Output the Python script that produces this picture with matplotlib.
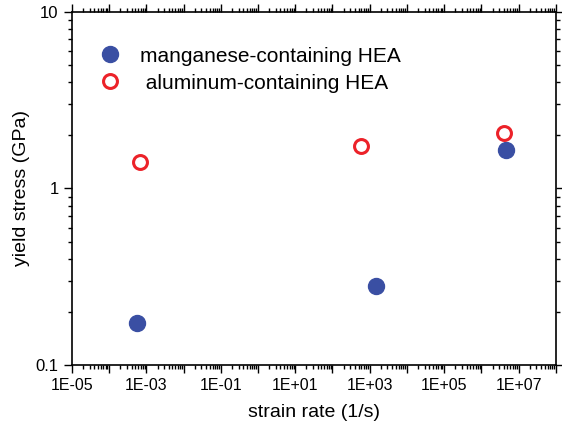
import numpy as np
import matplotlib
matplotlib.use('Agg')
import matplotlib.pyplot as plt
from matplotlib.ticker import LogLocator, FixedLocator, NullFormatter, FuncFormatter

# strain rate (1/s) and yield stress (GPa)
mn_rate = [5.6e-4, 1.5e3, 4.7e6]
mn_stress = [0.173, 0.28, 1.65]
al_rate = [6.8e-4, 5.9e2, 4.1e6]
al_stress = [1.41, 1.74, 2.06]

plt.rcParams['font.family'] = ['Liberation Sans', 'DejaVu Sans']

fig = plt.figure(figsize=(5.62, 4.25), dpi=100)
ax = fig.add_axes([0.128, 0.141, 0.861, 0.831])

ax.plot(mn_rate, mn_stress, 'o', ms=11.5, color='#3a4fa3', mec='#3a4fa3',
        label='manganese-containing HEA')
ax.plot(al_rate, al_stress, 'o', ms=10, mfc='none', mec='#ec2229', mew=2.2,
        label=' aluminum-containing HEA')

ax.set_xscale('log')
ax.set_yscale('log')
ax.set_xlim(1e-5, 1e8)
ax.set_ylim(0.1, 10)

# major tick every decade, label every second one
ax.xaxis.set_major_locator(FixedLocator([10.0 ** k for k in range(-5, 9)]))
ax.xaxis.set_major_formatter(FuncFormatter(
    lambda v, p: ('1E%+03d' % round(np.log10(v))) if round(np.log10(v)) % 2 == 1 and round(np.log10(v)) <= 7 else ''))
ax.xaxis.set_minor_locator(LogLocator(base=10, subs=np.arange(2, 10), numticks=50))
ax.xaxis.set_minor_formatter(NullFormatter())

ax.yaxis.set_major_locator(FixedLocator([0.1, 1, 10]))
ax.yaxis.set_major_formatter(FuncFormatter(lambda v, p: '%g' % v))
ax.yaxis.set_minor_locator(LogLocator(base=10, subs=np.arange(2, 10), numticks=20))
ax.yaxis.set_minor_formatter(NullFormatter())

ax.tick_params(which='both', direction='out', top=True, right=True, width=1, colors='black')
ax.tick_params(axis='x', labelsize=11.5)
ax.tick_params(axis='y', labelsize=12)
ax.tick_params(which='major', length=6)
ax.tick_params(which='minor', length=3)
for s in ax.spines.values():
    s.set_linewidth(1.2)

ax.set_xlabel('strain rate (1/s)', fontsize=14, labelpad=8)
ax.set_ylabel('yield stress (GPa)', fontsize=14, labelpad=4)

ax.legend(loc='upper left', bbox_to_anchor=(0.018, 0.925), frameon=False, fontsize=15,
          handletextpad=0.45, labelspacing=0.38, borderaxespad=0)

fig.savefig('out.png', dpi=100)
